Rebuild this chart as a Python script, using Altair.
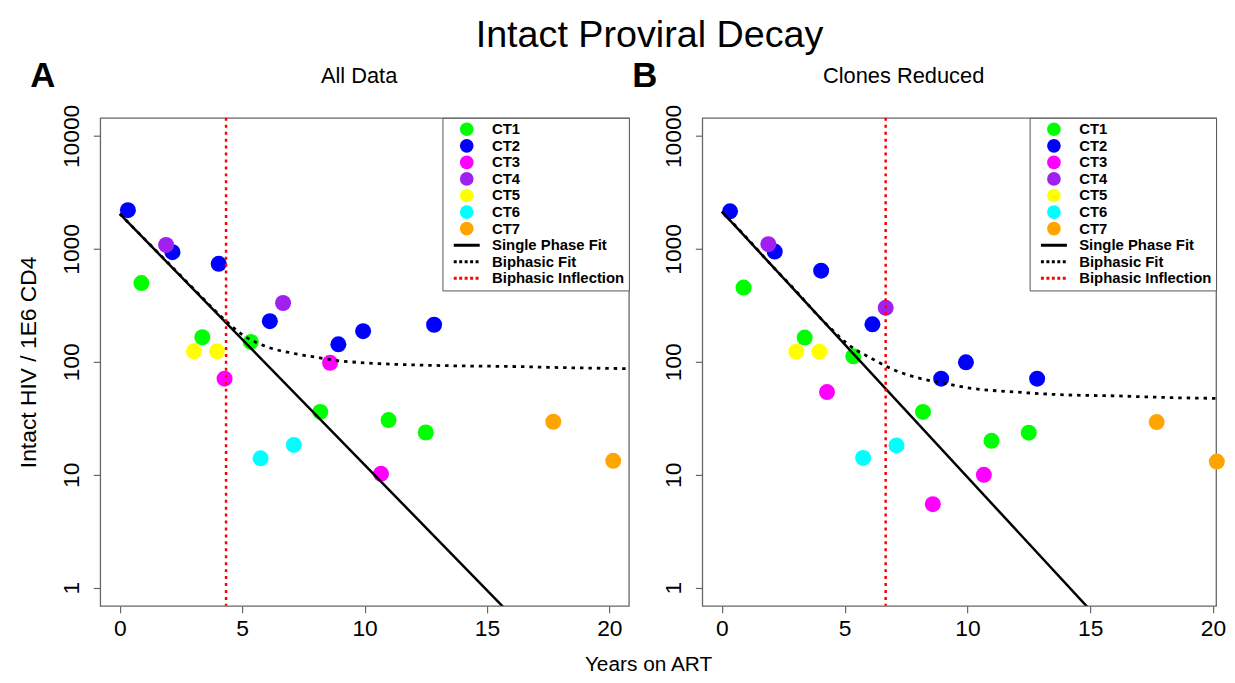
import altair as alt
import pandas as pd

FONT = "Liberation Sans"

# ---- legend categories ----
labels = ["CT1", "CT2", "CT3", "CT4", "CT5", "CT6", "CT7",
          "Single Phase Fit", "Biphasic Fit", "Biphasic Inflection"]
colors = ["#00FF00", "#0000FF", "#FF00FF", "#A020F0", "#FFFF00", "#00FFFF", "#FFA500",
          "#000000", "#000000", "#FF0000"]
shapes = ["circle"] * 7 + ["M-1.9,0L1.9,0"] * 3

# ---- participant measurements (years on ART, group) ----
years = [0.88, 3.37, 5.35, 8.19, 10.98, 12.5,
         0.33, 2.15, 4.04, 6.13, 8.93, 9.94, 12.84,
         4.28, 8.59, 10.67,
         1.89, 6.67,
         3.03, 3.97,
         5.75, 7.11,
         17.71, 20.16]
groups = ["CT1"] * 6 + ["CT2"] * 7 + ["CT3"] * 3 + ["CT4"] * 2 + ["CT5"] * 2 + ["CT6"] * 2 + ["CT7"] * 2
intact_all = [498, 165, 150, 36, 30.5, 23.7,
              2200, 935, 738, 229, 143, 187, 213,
              71, 98, 10.2,
              1085, 332,
              124, 124,
              14.0, 18.4,
              29.5, 13.3]
intact_reduced = [454, 164, 112, 36, 20, 23.6,
                  2150, 946, 641, 215, 71, 99, 71,
                  54, 5.5, 10,
                  1100, 301,
                  123, 123,
                  14.1, 18.2,
                  29.3, 13.1]

# ---- fitted curves ----
fit_x = [0, 16]
single_all = [2040, 0.57]
single_reduced = [2140, 0.37]
bi_x = [0, 1, 2, 3, 4, 4.5, 5, 5.5, 6, 7, 8, 9, 10, 12, 14, 16, 18, 20.8]
bi_all = [2042, 1230, 741, 447, 269, 214, 174, 151, 136, 120, 110, 102, 98, 94, 92, 91, 89, 87]
bi_reduced = [2140, 1259, 724, 427, 245, 191, 151, 126, 110, 85, 72, 65, 59, 54, 51, 50, 48.4, 47.3]
inflection_all = [4.34]
inflection_reduced = [6.67]

panel_letters = ["A", "B"]
panel_titles = ["All Data", "Clones Reduced"]

x_ticks = [0, 5, 10, 15, 20]
y_ticks = [1, 10, 100, 1000, 10000]

yscale = alt.Scale(type="log", domain=[0.6918, 14454], nice=False)
line_names = "['Single Phase Fit','Biphasic Fit','Biphasic Inflection']"
NBSP = "\u00a0"


def panel(yvals, single_y, bi_y, infl, letter, title, width, xmax,
          letter_dx, title_dx, show_ytitle):
    xscale = alt.Scale(domain=[-0.8, xmax], nice=False, zero=False)
    pts = pd.DataFrame({"years": years, "intact": yvals, "label": groups})
    single = pd.DataFrame({"years": fit_x, "intact": single_y})
    bi = pd.DataFrame({"years": bi_x, "intact": bi_y})
    inf = pd.DataFrame({"years": infl})
    let = pd.DataFrame({"t": [letter]})
    ttl = pd.DataFrame({"t": [title]})

    xax = alt.Axis(values=x_ticks, title=None, domain=False, tickSize=7, tickColor="#666",
                   tickWidth=1.2, labelFont=FONT, labelFontSize=23, labelColor="black",
                   grid=False, labelPadding=5)
    yax = alt.Axis(values=y_ticks, format="d", domain=False, tickSize=7, tickColor="#666",
                   tickWidth=1.2, labelFont=FONT, labelFontSize=23, labelColor="black",
                   grid=False, labelAngle=270, labelAlign="center", labelBaseline="middle",
                   labelPadding=22,
                   title="Intact HIV / 1E6 CD4" if show_ytitle else None,
                   titleFont=FONT, titleFontSize=23, titleFontWeight="normal",
                   titleColor="black", titlePadding=20)

    legend = alt.Legend(
        title=None, orient="top-right", offset=0, strokeColor="#555", fillColor="white",
        padding=4, cornerRadius=0, labelFont=FONT, labelFontSize=15,
        labelFontWeight="bold", labelColor="black", symbolSize=190, rowPadding=0.7,
        labelOffset=18, symbolOffset=13, labelLimit=300,
        labelExpr="datum.label + '" + NBSP * 3 + "'",
        symbolStrokeColor={"expr": "datum.value == 'Biphasic Inflection' ? 'red' : (indexof(" + line_names + ", datum.value) >= 0 ? 'black' : 'transparent')"},
        symbolStrokeWidth={"expr": "indexof(" + line_names + ", datum.value) >= 0 ? 3 : 0"},
        symbolDash={"expr": "datum.value == 'Single Phase Fit' ? [1, 0] : [3, 2.5]"},
    )

    points = alt.Chart(pts).mark_point(filled=True, size=260, opacity=1).encode(
        x=alt.X("years:Q", scale=xscale, axis=xax),
        y=alt.Y("intact:Q", scale=yscale, axis=yax),
        color=alt.Color("label:N", scale=alt.Scale(domain=labels, range=colors), legend=legend),
        shape=alt.Shape("label:N", scale=alt.Scale(domain=labels, range=shapes), legend=legend),
    )
    single_line = alt.Chart(single).mark_line(color="black", strokeWidth=2.5, clip=True).encode(
        x="years:Q", y="intact:Q")
    bi_line = alt.Chart(bi).mark_line(color="black", strokeWidth=2.8, strokeDash=[3.5, 5],
                                      interpolate="monotone", clip=True).encode(
        x="years:Q", y="intact:Q")
    rule = alt.Chart(inf).mark_rule(color="red", strokeWidth=2.5, strokeDash=[3, 4]).encode(
        x="years:Q")
    letter_txt = alt.Chart(let).mark_text(font=FONT, fontSize=35, fontWeight="bold",
                                          color="black", align="center", baseline="middle").encode(
        text="t:N", x=alt.value(letter_dx), y=alt.value(-42))
    title_txt = alt.Chart(ttl).mark_text(font=FONT, fontSize=22, fontWeight="normal",
                                         color="black", align="center", baseline="middle").encode(
        text="t:N", x=alt.value(title_dx), y=alt.value(-42))

    return alt.layer(points, single_line, bi_line, rule, letter_txt, title_txt).properties(
        width=width, height=492)


a = panel(intact_all, single_all, bi_all, inflection_all, panel_letters[0], panel_titles[0],
          533, 20.8, -58, 261, True)
b = panel(intact_reduced, single_reduced, bi_reduced, inflection_reduced, panel_letters[1],
          panel_titles[1], 518, 20.13, -58, 203, False)

row = alt.hconcat(
    a, b, spacing=0,
    title=alt.TitleParams("Years on ART", orient="bottom", anchor="middle", font=FONT,
                          fontSize=21, fontWeight="normal", color="black", offset=13, dx=27),
).resolve_scale(color="independent", shape="independent")

chart = alt.vconcat(
    row,
    title=alt.TitleParams("Intact Proviral Decay", anchor="middle", font=FONT, fontSize=38,
                          fontWeight="normal", color="black", offset=4, dx=28),
).resolve_scale(color="independent", shape="independent").properties(
    padding={"left": 9, "top": 6, "right": 0, "bottom": 0}
).configure_view(stroke="#666", strokeWidth=1.3)

chart.save("out.html", embed_options={"renderer": "svg", "actions": False})
